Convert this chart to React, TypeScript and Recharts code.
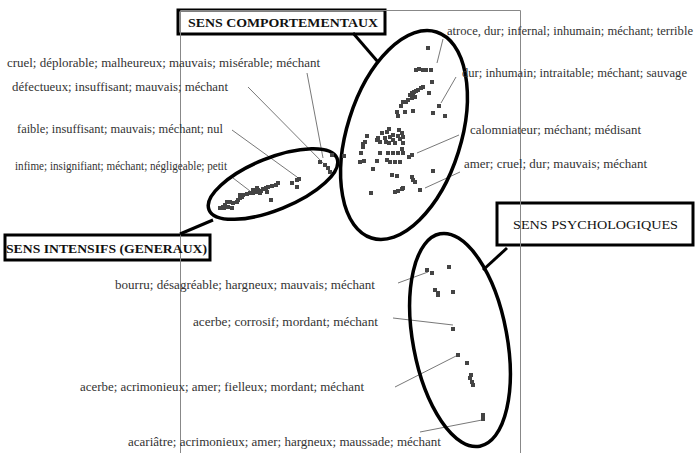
import { ScatterChart, Scatter, XAxis, YAxis, ReferenceLine, ReferenceArea, ReferenceDot } from "recharts";

// coordonnées du plan factoriel (unités = échelle de la figure, axe y vers le bas)
const comportementaux = [
  [428, 48], [416, 70], [419, 69], [423, 70], [426, 70], [431, 70], [432, 82], [429, 93],
  [423, 87], [421, 88], [418, 90], [416, 91], [414, 92], [412, 93], [413, 95], [410, 95],
  [415, 97], [412, 98], [408, 100], [406, 102], [439, 106], [433, 113], [445, 116],
  [403, 102], [401, 106], [397, 112], [398, 116], [405, 112], [413, 111],
  [389, 129], [387, 132], [382, 133], [378, 138], [377, 140], [380, 142], [385, 138], [390, 137],
  [393, 135], [399, 130], [402, 133], [398, 136], [393, 140], [389, 143], [386, 142], [400, 139],
  [395, 143], [367, 136], [365, 142], [363, 144], [363, 147], [361, 153], [360, 162], [364, 161],
  [403, 137], [403, 143], [388, 153], [393, 153], [380, 153], [398, 153], [402, 149], [403, 153],
  [387, 160], [390, 162], [395, 162], [400, 162], [377, 161], [409, 157], [412, 155], [373, 169],
  [392, 175], [397, 176], [412, 177], [413, 180], [415, 182], [403, 188], [402, 189], [398, 191],
  [395, 192], [371, 193], [420, 190], [433, 171], [344, 156],
].map(([x, y]) => ({ x, y }));

const intensifs = [
  [320, 162], [325, 165], [328, 168], [330, 172], [332, 155], [297, 180], [299, 179], [292, 183],
  [297, 187], [278, 183], [276, 185], [272, 186], [268, 187], [266, 188], [263, 189], [261, 191],
  [258, 190], [257, 192], [253, 193], [250, 193], [247, 194], [243, 195], [242, 197], [240, 198],
  [238, 200], [237, 202], [233, 203], [230, 202], [227, 202], [225, 205], [223, 207], [220, 208],
  [224, 208], [228, 207], [232, 208], [271, 200], [240, 195], [257, 188], [253, 190], [267, 192],
  [260, 193],
].map(([x, y]) => ({ x, y }));

const psychologiques = [
  [427, 270], [432, 273], [449, 267], [435, 290], [438, 293], [438, 295], [453, 292], [453, 329],
  [458, 355], [467, 363], [471, 375], [470, 378], [472, 382], [473, 385], [483, 415], [483, 419],
].map(([x, y]) => ({ x, y }));

const groupes = ["SENS COMPORTEMENTAUX", "SENS INTENSIFS (GENERAUX)", "SENS PSYCHOLOGIQUES"];

const libelles = [
  "atroce, dur; infernal; inhumain; méchant; terrible",
  "dur; inhumain; intraitable; méchant; sauvage",
  "calomniateur; méchant; médisant",
  "amer; cruel; dur; mauvais; méchant",
  "cruel; déplorable; malheureux; mauvais; misérable; méchant",
  "défectueux; insuffisant; mauvais; méchant",
  "faible; insuffisant; mauvais; méchant; nul",
  "infime; insignifiant; méchant; négligeable; petit",
  "bourru; désagréable; hargneux; mauvais; méchant",
  "acerbe; corrosif; mordant; méchant",
  "acerbe; acrimonieux; amer; fielleux; mordant; méchant",
  "acariâtre; acrimonieux; amer; hargneux; maussade; méchant",
];

// mise en page des annotations : début du texte, largeur, trait de rappel
const placeLibelles = [
  { x: 447, y: 31, w: 246, from: [443, 39], to: [437, 63] },
  { x: 462, y: 73, w: 225, from: [456, 77], to: [441, 103] },
  { x: 470, y: 130, w: 171, from: [459, 135], to: [417, 153] },
  { x: 464, y: 164, w: 183, from: [460, 172], to: [425, 188] },
  { x: 7, y: 63, w: 313, from: [307, 73], to: [323, 158] },
  { x: 12, y: 87, w: 216, from: [248, 87], to: [328, 168] },
  { x: 17, y: 129, w: 206, from: [232, 130], to: [297, 177] },
  { x: 15, y: 166, w: 212, from: [233, 178], to: [250, 191] },
  { x: 115, y: 285, w: 260, from: [398, 283], to: [428, 272] },
  { x: 193, y: 322, w: 185, from: [393, 318], to: [453, 325] },
  { x: 80, y: 387, w: 284, from: [395, 387], to: [458, 355] },
  { x: 128, y: 442, w: 313, from: [420, 432], to: [482, 420] },
];

const placeGroupes = [
  { box: [178, 385, 10, 34], tx: 188, ty: 22, w: 190, from: [353, 33], to: [378, 62] },
  { box: [5, 210, 235, 260], tx: 6, ty: 248, w: 201, from: [180, 234], to: [213, 220] },
  { box: [497, 693, 203, 245], tx: 513, ty: 224, w: 165, from: [507, 248], to: [483, 270] },
];

const ellipses = [
  { cx: 404, cy: 135, rx: 57, ry: 108, rot: 17.5 },
  { cx: 273, cy: 184, rx: 69, ry: 26, rot: -22 },
  { cx: 460, cy: 340, rx: 47, ry: 108, rot: -10.6 },
];

const SERIF = '"Liberation Serif", "Times New Roman", "DejaVu Serif", serif';

const Carre = (p: any) => <rect x={p.cx - 2} y={p.cy - 2} width={4} height={4} fill="#444" />;

export default function App() {
  return (
    <div style={{ position: "absolute", left: 0, top: 0, background: "#fff", fontFamily: SERIF }}>
      <ScatterChart width={696} height={453} margin={{ top: 0, right: 0, bottom: 0, left: 0 }} style={{ fontFamily: SERIF }}>
        <XAxis type="number" dataKey="x" domain={[0, 696]} hide allowDataOverflow />
        <YAxis type="number" dataKey="y" domain={[0, 453]} reversed hide allowDataOverflow />

        {/* cadre du plan */}
        <ReferenceLine segment={[{ x: 180.5, y: 10.5 }, { x: 180.5, y: 453 }]} stroke="#888" strokeWidth={1} />
        <ReferenceLine segment={[{ x: 520.5, y: 10.5 }, { x: 520.5, y: 453 }]} stroke="#888" strokeWidth={1} />
        <ReferenceLine segment={[{ x: 180.5, y: 10.5 }, { x: 520.5, y: 10.5 }]} stroke="#888" strokeWidth={1} />

        {placeLibelles.map((l, i) => (
          <ReferenceLine
            key={"t" + i}
            segment={[{ x: l.from[0], y: l.from[1] }, { x: l.to[0], y: l.to[1] }]}
            stroke="#555"
            strokeWidth={0.8}
          />
        ))}

        {ellipses.map((e, i) => (
          <ReferenceDot
            key={"e" + i}
            x={e.cx}
            y={e.cy}
            r={1}
            shape={(p: any) => (
              <ellipse
                cx={p.cx}
                cy={p.cy}
                rx={e.rx}
                ry={e.ry}
                transform={`rotate(${e.rot} ${p.cx} ${p.cy})`}
                fill="none"
                stroke="#000"
                strokeWidth={3.5}
              />
            )}
          />
        ))}

        {placeGroupes.map((g, i) => (
          <ReferenceLine
            key={"c" + i}
            segment={[{ x: g.from[0], y: g.from[1] }, { x: g.to[0], y: g.to[1] }]}
            stroke="#000"
            strokeWidth={3}
          />
        ))}
        {placeGroupes.map((g, i) => (
          <ReferenceArea
            key={"b" + i}
            x1={g.box[0]}
            x2={g.box[1]}
            y1={g.box[2]}
            y2={g.box[3]}
            fill="none"
            fillOpacity={0}
            stroke="#000"
            strokeWidth={3}
            strokeOpacity={1}
          />
        ))}
        {placeGroupes.map((g, i) => (
          <ReferenceDot
            key={"g" + i}
            x={g.tx}
            y={g.ty}
            r={1}
            shape={(p: any) => (
              <text
                x={p.cx}
                y={p.cy}
                dy="0.35em"
                fontSize={13}
                fontWeight={i === 2 ? 400 : 700}
                style={{ fontFamily: SERIF }}
                fill="#111"
                textLength={g.w}
                lengthAdjust="spacingAndGlyphs"
              >
                {groupes[i]}
              </text>
            )}
          />
        ))}

        {placeLibelles.map((l, i) => (
          <ReferenceDot
            key={"l" + i}
            x={l.x}
            y={l.y}
            r={1}
            shape={(p: any) => (
              <text
                x={p.cx}
                y={p.cy}
                dy="0.35em"
                fontSize={12.5}
                style={{ fontFamily: SERIF }}
                fill="#333"
                textLength={l.w}
                lengthAdjust="spacingAndGlyphs"
              >
                {libelles[i]}
              </text>
            )}
          />
        ))}

        <Scatter data={comportementaux} shape={Carre} isAnimationActive={false} />
        <Scatter data={intensifs} shape={Carre} isAnimationActive={false} />
        <Scatter data={psychologiques} shape={Carre} isAnimationActive={false} />
      </ScatterChart>
    </div>
  );
}
